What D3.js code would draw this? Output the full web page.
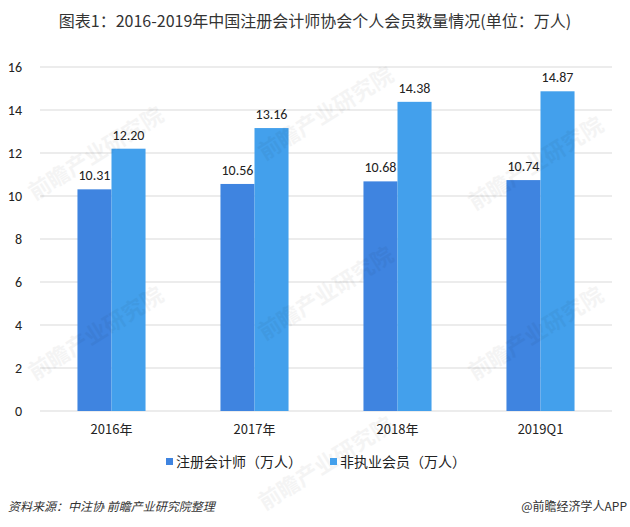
<!DOCTYPE html>
<html>
<head>
<meta charset="utf-8">
<script src="https://cdn.jsdelivr.net/npm/d3@7"></script>
<style>
  body { margin: 0; background: #fff; }
  svg { font-family: "Microsoft YaHei", "Noto Sans CJK SC", sans-serif; }
</style>
</head>
<body>
<svg id="chart"></svg>
<script>
// data
const years = ["2016年", "2017年", "2018年", "2019Q1"];
const cpa = [10.31, 10.56, 10.68, 10.74];
const nonPractice = [12.20, 13.16, 14.38, 14.87];
const seriesNames = ["注册会计师（万人）", "非执业会员（万人）"];
const yTicks = [0, 2, 4, 6, 8, 10, 12, 14, 16];

const svg = d3.select("#chart")
    .attr("width", 630)
    .attr("height", 527);

const margin = { top: 67, right: 18, bottom: 116, left: 40 };
const width = 630 - margin.left - margin.right;
const height = 527 - margin.top - margin.bottom;

// title
svg.append("text")
    .attr("x", 315)
    .attr("y", 27)
    .attr("text-anchor", "middle")
    .style("font-size", "16px")
    .style("fill", "#333")
    .text("图表1：2016-2019年中国注册会计师协会个人会员数量情况(单位：万人)");

const g = svg.append("g")
    .attr("transform", `translate(${margin.left},${margin.top})`);

// scales
const x0 = d3.scaleBand()
    .domain(years)
    .range([0, width])
    .paddingInner(0.524)
    .paddingOuter(0.262);
const x1 = d3.scaleBand()
    .domain([0, 1])
    .range([0, x0.bandwidth()]);
const y = d3.scaleLinear()
    .domain([0, 16])
    .range([height, 0]);

const colors = ["#3f84e0", "#43a0ec"];

// grid lines
g.selectAll(".grid")
    .data(yTicks)
    .enter().append("line")
    .attr("x1", 0)
    .attr("x2", width)
    .attr("y1", d => y(d))
    .attr("y2", d => y(d))
    .attr("stroke", "#d9d9d9")
    .attr("stroke-width", 1);

// y axis labels
const yAxis = d3.axisLeft(y).tickValues(yTicks).tickSize(0).tickPadding(18);
g.append("g")
    .call(yAxis)
    .call(s => s.select(".domain").remove())
    .selectAll("text")
    .style("font-size", "14px")
    .style("fill", "#222")
    .style("font-family", "Calibri, Carlito, 'Liberation Sans', sans-serif");

// watermarks (faint, kept inside the frame)
const marks = [[100, 160], [330, 120], [100, 340], [330, 300], [540, 170], [540, 340], [330, 470]];
svg.selectAll(".wm")
    .data(marks)
    .enter().append("text")
    .attr("transform", d => `translate(${d[0]},${d[1]}) rotate(-32)`)
    .attr("text-anchor", "middle")
    .style("font-size", "22px")
    .style("font-weight", "bold")
    .style("fill", "#000")
    .style("opacity", 0.04)
    .text("前瞻产业研究院");

// bars
const rows = years.map((yr, i) => ({ yr, vals: [cpa[i], nonPractice[i]] }));
const groups = g.selectAll(".grp")
    .data(rows)
    .enter().append("g")
    .attr("transform", d => `translate(${x0(d.yr)},0)`);

groups.selectAll("rect")
    .data(d => d.vals.map((v, k) => ({ v, k })))
    .enter().append("rect")
    .attr("x", d => x1(d.k))
    .attr("y", d => y(d.v))
    .attr("width", x1.bandwidth())
    .attr("height", d => height - y(d.v))
    .attr("fill", d => colors[d.k]);

groups.selectAll(".lbl")
    .data(d => d.vals.map((v, k) => ({ v, k })))
    .enter().append("text")
    .attr("x", d => x1(d.k) + x1.bandwidth() / 2)
    .attr("y", d => y(d.v) - 9)
    .attr("text-anchor", "middle")
    .style("font-size", "14px")
    .style("fill", "#222")
    .style("font-family", "Calibri, Carlito, 'Liberation Sans', sans-serif")
    .text(d => d.v.toFixed(2));

// x axis labels
const xAxis = d3.axisBottom(x0).tickSize(0).tickPadding(14);
g.append("g")
    .attr("transform", `translate(0,${height})`)
    .call(xAxis)
    .call(s => s.select(".domain").remove())
    .selectAll("text")
    .style("font-size", "13px")
    .style("fill", "#222")
    .style("font-family", "'Noto Sans CJK SC', sans-serif");

// legend
const legend = svg.append("g").attr("transform", "translate(0,463)");
const legendX = [166, 330];
seriesNames.forEach((name, i) => {
    legend.append("rect")
        .attr("x", legendX[i])
        .attr("y", -5)
        .attr("width", 7)
        .attr("height", 7)
        .attr("fill", colors[i]);
    legend.append("text")
        .attr("x", legendX[i] + 10)
        .attr("y", 0)
        .attr("dominant-baseline", "middle")
        .style("font-size", "14px")
        .style("fill", "#222")
        .text(name);
});

// source and credit
svg.append("text")
    .attr("x", 8)
    .attr("y", 511)
    .style("font-size", "12px")
    .style("font-style", "italic")
    .style("fill", "#333")
    .text("资料来源：中注协 前瞻产业研究院整理");

svg.append("text")
    .attr("x", 627)
    .attr("y", 511)
    .attr("text-anchor", "end")
    .style("font-size", "12px")
    .style("fill", "#333")
    .text("@前瞻经济学人APP");
</script>
</body>
</html>
